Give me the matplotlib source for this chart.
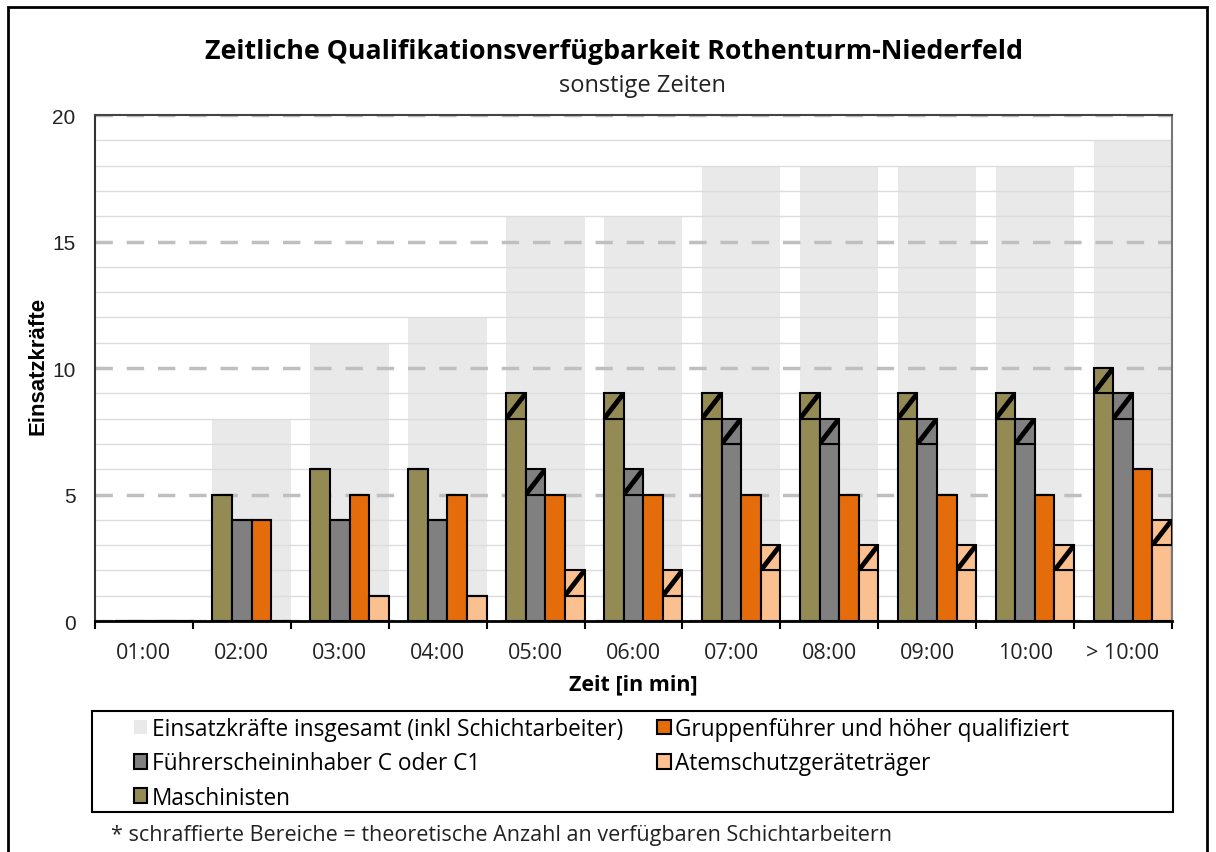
import matplotlib
matplotlib.use("Agg")
import matplotlib.pyplot as plt
from matplotlib.patches import Patch, Rectangle
from matplotlib.ticker import MultipleLocator
import numpy as np

plt.rcParams['font.family'] = ['Open Sans', 'DejaVu Sans']

zeiten = ['01:00', '02:00', '03:00', '04:00', '05:00', '06:00',
          '07:00', '08:00', '09:00', '10:00', '> 10:00']
gesamt = [0, 8, 11, 12, 16, 16, 18, 18, 18, 18, 19]

# fester Anteil / zusätzlich mögliche Schichtarbeiter (schraffiert)
maschinisten = [0, 5, 6, 6, 8, 8, 8, 8, 8, 8, 9]
maschinisten_schicht = [0, 0, 0, 0, 1, 1, 1, 1, 1, 1, 1]
fuehrerschein = [0, 4, 4, 4, 5, 5, 7, 7, 7, 7, 8]
fuehrerschein_schicht = [0, 0, 0, 0, 1, 1, 1, 1, 1, 1, 1]
gruppenfuehrer = [0, 4, 5, 5, 5, 5, 5, 5, 5, 5, 6]
gruppenfuehrer_schicht = [0, 0, 0, 0, 0, 0, 0, 0, 0, 0, 0]
atemschutz = [0, 0, 1, 1, 1, 1, 2, 2, 2, 2, 3]
atemschutz_schicht = [0, 0, 0, 0, 1, 1, 1, 1, 1, 1, 1]

c_gesamt = '#E9E9E9'
c_masch = '#948A54'
c_fuehr = '#808080'
c_gruppe = '#E46C0A'
c_atem = '#FAC090'

fig = plt.figure(figsize=(12.16, 8.53), dpi=100)
ax = fig.add_axes([0.0781, 0.2708, 0.8857, 0.5932])

x = np.arange(len(zeiten))
w = 0.2

ax.bar(x + 0.1, gesamt, width=0.8, color=c_gesamt, zorder=1)

serien = [
    (maschinisten, maschinisten_schicht, c_masch, -0.2),
    (fuehrerschein, fuehrerschein_schicht, c_fuehr, 0.0),
    (gruppenfuehrer, gruppenfuehrer_schicht, c_gruppe, 0.2),
    (atemschutz, atemschutz_schicht, c_atem, 0.4),
]
for werte, schicht, farbe, off in serien:
    xs = x + off
    ax.bar(xs, werte, width=w, color=farbe, edgecolor='black',
           linewidth=1.5, zorder=2)
    oben = ax.bar(xs, schicht, width=w, bottom=werte, color=farbe,
                  edgecolor='black', linewidth=1.5, zorder=3)
    # ein schräger Strich pro schraffiertem Feld
    for rect, xi, b, h in zip(oben.patches, xs, werte, schicht):
        if h == 0:
            continue
        ln, = ax.plot([xi - w / 2, xi + w / 2], [b, b + h], color='black',
                      lw=3.5, solid_capstyle='butt', zorder=3.5)
        ln.set_clip_path(rect)

ax.set_xlim(-0.5, len(zeiten) - 0.5)
ax.set_ylim(0, 20)

ax.set_xticks(x)
ax.set_xticklabels(zeiten, fontsize=15.5, color='#222222')
ax.set_xticks(np.arange(-0.5, len(zeiten)), minor=True)
ax.tick_params(axis='x', which='major', length=0, pad=15)
ax.tick_params(axis='x', which='minor', length=6, width=1.5,
               direction='out', color='black')

ax.yaxis.set_major_locator(MultipleLocator(5))
ax.yaxis.set_minor_locator(MultipleLocator(1))
ax.tick_params(axis='y', which='both', length=0, pad=14)
for lbl in ax.get_yticklabels():
    lbl.set_fontfamily('Liberation Sans')
    lbl.set_fontsize(15)
    lbl.set_color('#222222')

ax.set_axisbelow('line')
ax.grid(axis='y', which='major', color='#BFBFBF', linestyle=(0, (5, 4)),
        linewidth=2.5)
ax.grid(axis='y', which='minor', color='#DCDCDC', linestyle='-',
        linewidth=1)

ax.spines['left'].set_color('#333333')
ax.spines['left'].set_linewidth(1.5)
ax.spines['top'].set_color('#444444')
ax.spines['top'].set_linewidth(1.5)
ax.spines['right'].set_color('#777777')
ax.spines['right'].set_linewidth(1.5)
ax.spines['bottom'].set_color('black')
ax.spines['bottom'].set_linewidth(2)

fig.text(0.505, 0.939, 'Zeitliche Qualifikationsverfügbarkeit Rothenturm-Niederfeld',
         ha='center', va='center', fontsize=19.3, fontweight='bold')
fig.text(0.528, 0.899, 'sonstige Zeiten', ha='center', va='center',
         fontsize=17, color='#222222')
fig.text(0.521, 0.197, 'Zeit [in min]', ha='center', va='center',
         fontsize=15.5, fontweight='bold')
fig.text(0.031, 0.571, 'Einsatzkräfte', ha='center', va='center',
         rotation=90, fontsize=16, fontweight='bold',
         family=['Liberation Sans', 'DejaVu Sans'])

handles = [
    Patch(facecolor=c_gesamt, edgecolor='none',
          label='Einsatzkräfte insgesamt (inkl Schichtarbeiter)'),
    Patch(facecolor=c_fuehr, edgecolor='black', linewidth=1.5,
          label='Führerscheininhaber C oder C1'),
    Patch(facecolor=c_masch, edgecolor='black', linewidth=1.5,
          label='Maschinisten'),
    Patch(facecolor=c_gruppe, edgecolor='black', linewidth=1.5,
          label='Gruppenführer und höher qualifiziert'),
    Patch(facecolor=c_atem, edgecolor='black', linewidth=1.5,
          label='Atemschutzgeräteträger'),
]
fig.add_artist(Rectangle((0.0757, 0.0469), 0.889, 0.1184,
                         transform=fig.transFigure, fill=False,
                         edgecolor='black', linewidth=1.5))
fig.legend(handles=handles, loc='upper left', ncol=2,
           bbox_to_anchor=(0.110, 0.158), frameon=False, fontsize=16.3,
           handlelength=0.6, handleheight=0.6, handletextpad=0.2,
           labelspacing=0.45, columnspacing=1.5, borderaxespad=0,
           borderpad=0)

fig.text(0.091, 0.021,
         '* schraffierte Bereiche = theoretische Anzahl an verfügbaren Schichtarbeitern',
         ha='left', va='center', fontsize=15.5, color='#222222')

fig.add_artist(Rectangle((8 / 1216, -0.05), 1199 / 1216, 1.05 - 8 / 853,
                         transform=fig.transFigure, fill=False,
                         edgecolor='black', linewidth=2))

fig.savefig('out.png', dpi=100)
